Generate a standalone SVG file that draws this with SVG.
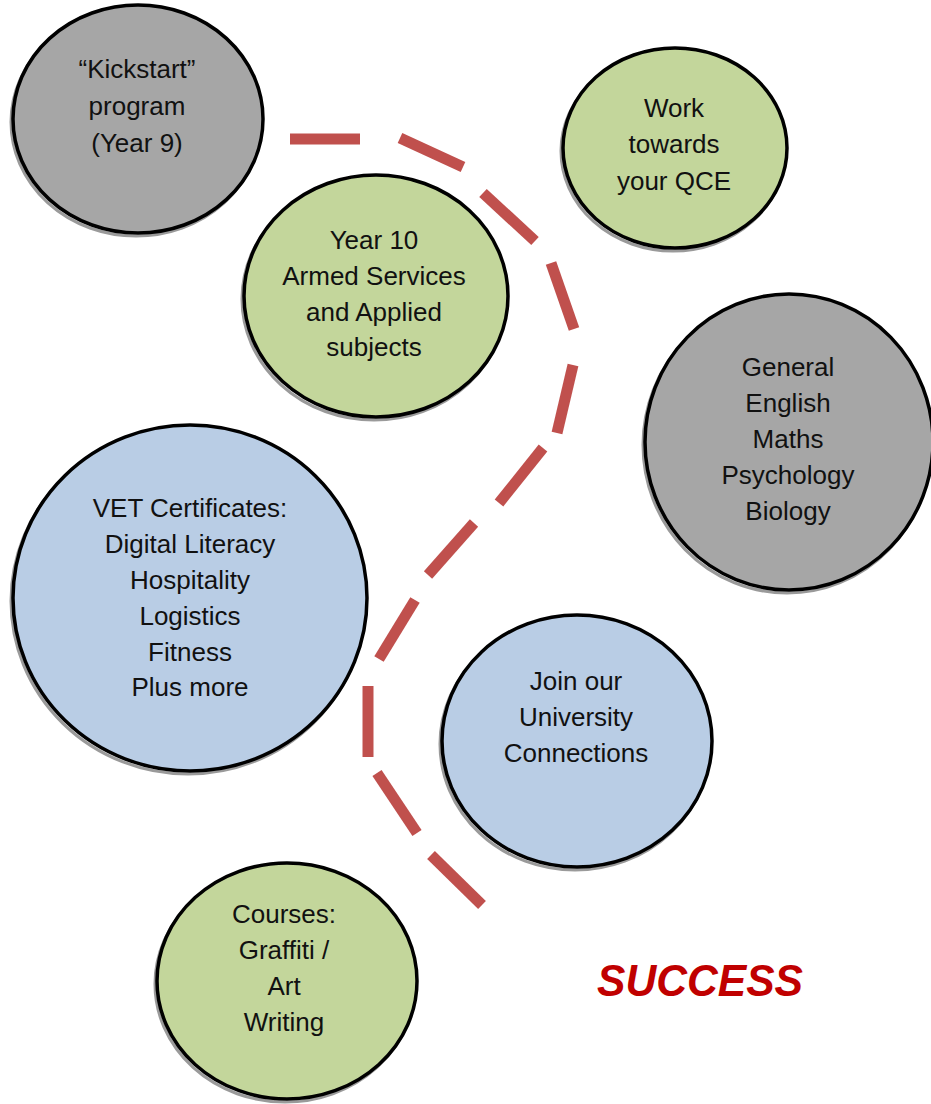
<svg xmlns="http://www.w3.org/2000/svg" width="931" height="1104" viewBox="0 0 931 1104">
<style>
.shadow{fill:none;stroke:#9a9a9a;stroke-width:3}
.node{stroke:#000;stroke-width:3.5}
.gray{fill:#A6A6A6}
.green{fill:#C3D69B}
.blue{fill:#B9CDE5}
.lbl{font-family:"Liberation Sans",Arial,sans-serif;font-size:26px;fill:#111;text-anchor:middle}
.dash{stroke:#C0504D;stroke-width:11;fill:none}
</style>
<rect width="931" height="1104" fill="#fff"/>
<g id="connectors">
<line class="dash" x1="290" y1="139" x2="360" y2="139"/>
<line class="dash" x1="400" y1="138" x2="463" y2="167"/>
<line class="dash" x1="483" y1="193" x2="535" y2="241"/>
<line class="dash" x1="551" y1="263" x2="574" y2="329"/>
<line class="dash" x1="573" y1="365" x2="557" y2="433"/>
<line class="dash" x1="543" y1="448" x2="499" y2="503"/>
<line class="dash" x1="474" y1="523" x2="428" y2="575"/>
<line class="dash" x1="415" y1="600" x2="379" y2="659"/>
<line class="dash" x1="368" y1="686" x2="368" y2="757"/>
<line class="dash" x1="377" y1="773" x2="417" y2="833"/>
<line class="dash" x1="431" y1="855" x2="482" y2="905"/>
</g>
<g id="kickstart">
<ellipse class="shadow" cx="136" cy="122" rx="125" ry="114"/>
<ellipse class="node gray" cx="138" cy="119" rx="125" ry="114"/>
<text class="lbl" x="137" y="78">“Kickstart”</text>
<text class="lbl" x="137" y="115">program</text>
<text class="lbl" x="137" y="152">(Year 9)</text>
</g>
<g id="qce">
<ellipse class="shadow" cx="673" cy="151" rx="112" ry="100"/>
<ellipse class="node green" cx="675" cy="148" rx="112" ry="100"/>
<text class="lbl" x="674" y="117">Work</text>
<text class="lbl" x="674" y="153">towards</text>
<text class="lbl" x="674" y="190">your QCE</text>
</g>
<g id="year10">
<ellipse class="shadow" cx="374" cy="299" rx="132" ry="121"/>
<ellipse class="node green" cx="376" cy="296" rx="132" ry="121"/>
<text class="lbl" x="374" y="249">Year 10</text>
<text class="lbl" x="374" y="285">Armed Services</text>
<text class="lbl" x="374" y="321">and Applied</text>
<text class="lbl" x="374" y="356">subjects</text>
</g>
<g id="general">
<ellipse class="shadow" cx="787" cy="445" rx="144" ry="148"/>
<ellipse class="node gray" cx="789" cy="442" rx="144" ry="148"/>
<text class="lbl" x="788" y="376">General</text>
<text class="lbl" x="788" y="412">English</text>
<text class="lbl" x="788" y="448">Maths</text>
<text class="lbl" x="788" y="484">Psychology</text>
<text class="lbl" x="788" y="520">Biology</text>
</g>
<g id="vet">
<ellipse class="shadow" cx="188" cy="601" rx="177" ry="173"/>
<ellipse class="node blue" cx="190" cy="598" rx="177" ry="173"/>
<text class="lbl" x="190" y="517">VET Certificates:</text>
<text class="lbl" x="190" y="553">Digital Literacy</text>
<text class="lbl" x="190" y="589">Hospitality</text>
<text class="lbl" x="190" y="625">Logistics</text>
<text class="lbl" x="190" y="661">Fitness</text>
<text class="lbl" x="190" y="696">Plus more</text>
</g>
<g id="university">
<ellipse class="shadow" cx="575" cy="744" rx="135" ry="126"/>
<ellipse class="node blue" cx="577" cy="741" rx="135" ry="126"/>
<text class="lbl" x="576" y="690">Join our</text>
<text class="lbl" x="576" y="726">University</text>
<text class="lbl" x="576" y="762">Connections</text>
</g>
<g id="courses">
<ellipse class="shadow" cx="285" cy="984" rx="130" ry="118"/>
<ellipse class="node green" cx="287" cy="981" rx="130" ry="118"/>
<text class="lbl" x="284" y="923">Courses:</text>
<text class="lbl" x="284" y="959">Graffiti /</text>
<text class="lbl" x="284" y="995">Art</text>
<text class="lbl" x="284" y="1031">Writing</text>
</g>
<g id="success">
<text x="597" y="996" textLength="206" lengthAdjust="spacingAndGlyphs" font-family="'Liberation Sans',Arial,sans-serif" font-size="44" font-weight="bold" font-style="italic" fill="#C00000">SUCCESS</text>
</g>
</svg>
